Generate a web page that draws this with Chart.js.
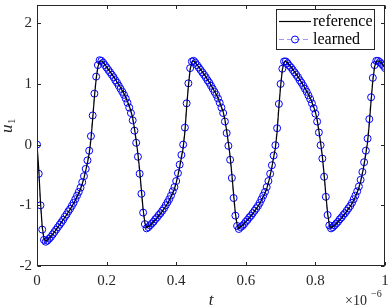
<!DOCTYPE html>
<html>
<head>
<meta charset="utf-8">
<script src="https://cdn.jsdelivr.net/npm/chart.js@4.4.1/dist/chart.umd.min.js"></script>
<style>
  html, body { margin: 0; padding: 0; background: #fff; }
  canvas { display: block; }
</style>
</head>
<body>
<canvas id="c" width="390" height="308"></canvas>
<script>
// time axis in units of 1e-6 s, sampled every 0.005
const tStep = 0.005

// reference trajectory u1(t)
const reference = [
  0, -0.40, -0.95, -1.35, -1.55, -1.59, -1.57, -1.54, -1.51, -1.48, -1.44, -1.40, -1.36,
  -1.32, -1.28, -1.24, -1.20, -1.16, -1.11, -1.07, -1.02, -0.97, -0.92, -0.86, -0.80,
  -0.73, -0.65, -0.55, -0.43, -0.30, -0.15, 0.08, 0.42, 0.78, 1.08, 1.28, 1.37,
  1.38, 1.36, 1.32, 1.28, 1.24, 1.20, 1.16, 1.12, 1.08, 1.03, 0.99, 0.94, 0.89, 0.84,
  0.78, 0.71, 0.64, 0.55, 0.44, 0.27, 0.07, -0.15, -0.42, -0.75, -1.07, -1.29, -1.37,
  -1.35, -1.33, -1.30, -1.27, -1.24, -1.21, -1.17, -1.14, -1.10, -1.06, -1.02, -0.97,
  -0.92, -0.86, -0.80, -0.73, -0.63, -0.51, -0.37, -0.21, -0.06, 0.21, 0.61, 0.96, 1.23, 1.36,
  1.38, 1.35, 1.31, 1.28, 1.24, 1.20, 1.16, 1.12, 1.07, 1.03, 0.98, 0.93, 0.88, 0.83,
  0.77, 0.70, 0.62, 0.54, 0.41, 0.23, 0.03, -0.19, -0.49, -0.82, -1.13, -1.32, -1.38,
  -1.35, -1.33, -1.30, -1.27, -1.24, -1.21, -1.17, -1.14, -1.10, -1.06, -1.02, -0.97,
  -0.92, -0.86, -0.80, -0.73, -0.63, -0.51, -0.37, -0.21, -0.06, 0.21, 0.61, 0.96, 1.23, 1.36,
  1.37, 1.35, 1.31, 1.28, 1.24, 1.20, 1.16, 1.12, 1.07, 1.03, 0.98, 0.93, 0.88, 0.83,
  0.77, 0.70, 0.62, 0.54, 0.41, 0.23, 0.03, -0.19, -0.49, -0.82, -1.13, -1.32, -1.37,
  -1.35, -1.33, -1.30, -1.27, -1.24, -1.21, -1.17, -1.14, -1.10, -1.06, -1.02, -0.97,
  -0.92, -0.86, -0.79, -0.71, -0.61, -0.48, -0.33, -0.15, 0.04, 0.35, 0.72, 1.05, 1.28, 1.37,
  1.38, 1.37, 1.34, 1.31, 1.27
]

// learned model output (circles)
const learned = [
  0, -0.48, -1.00, -1.40, -1.57, -1.60, -1.58, -1.55, -1.52, -1.48, -1.44, -1.40, -1.36,
  -1.32, -1.28, -1.24, -1.19, -1.15, -1.10, -1.06, -1.01, -0.96, -0.90, -0.84, -0.78,
  -0.71, -0.62, -0.52, -0.40, -0.26, -0.10, 0.14, 0.48, 0.84, 1.12, 1.31, 1.39,
  1.38, 1.35, 1.31, 1.27, 1.23, 1.19, 1.15, 1.11, 1.06, 1.02, 0.97, 0.92, 0.87, 0.82,
  0.76, 0.69, 0.61, 0.52, 0.40, 0.23, 0.03, -0.20, -0.48, -0.81, -1.12, -1.31, -1.38,
  -1.36, -1.33, -1.30, -1.27, -1.23, -1.20, -1.16, -1.13, -1.09, -1.05, -1.00, -0.95,
  -0.90, -0.84, -0.77, -0.70, -0.60, -0.47, -0.33, -0.17, 0.00, 0.28, 0.68, 1.01, 1.26, 1.37,
  1.38, 1.35, 1.31, 1.27, 1.23, 1.19, 1.15, 1.11, 1.06, 1.02, 0.97, 0.92, 0.87, 0.82,
  0.76, 0.69, 0.61, 0.52, 0.38, 0.19, -0.02, -0.25, -0.55, -0.88, -1.17, -1.34, -1.39,
  -1.36, -1.34, -1.31, -1.27, -1.24, -1.20, -1.17, -1.13, -1.09, -1.05, -1.01, -0.96,
  -0.90, -0.84, -0.78, -0.70, -0.60, -0.48, -0.34, -0.18, -0.01, 0.27, 0.67, 1.00, 1.25, 1.37,
  1.37, 1.34, 1.30, 1.27, 1.23, 1.19, 1.15, 1.11, 1.06, 1.02, 0.97, 0.92, 0.87, 0.81,
  0.75, 0.68, 0.60, 0.51, 0.38, 0.20, -0.01, -0.23, -0.53, -0.86, -1.16, -1.33, -1.38,
  -1.36, -1.33, -1.30, -1.27, -1.23, -1.20, -1.16, -1.13, -1.09, -1.05, -1.01, -0.96,
  -0.90, -0.84, -0.77, -0.69, -0.58, -0.45, -0.29, -0.10, 0.10, 0.42, 0.78, 1.10, 1.31, 1.38,
  1.38, 1.36, 1.33, 1.30, 1.26
]

const xTicks = [0, 0.2, 0.4, 0.6, 0.8, 1]
const xTickLabels = ['0', '0.2', '0.4', '0.6', '0.8', '1']
const yTicks = [-2, -1, 0, 1, 2]
const yTickLabels = ['-2', '-1', '0', '1', '2']

const axisColor = '#262626'
const serif = '"Liberation Serif", "DejaVu Serif", serif'

const toPoints = vals => vals.map((v, i) => ({ x: i * tStep, y: v }))

// MATLAB-like box with inward ticks, axis labels, exponent and legend
const matlabBox = {
  id: 'matlabBox',
  afterDraw(chart) {
    const { ctx, chartArea: a, scales } = chart
    const L = Math.round(a.left) + 0.5, R = Math.round(a.right) - 0.5
    const T = Math.round(a.top) + 0.5, B = Math.round(a.bottom) - 0.5
    ctx.save()
    ctx.strokeStyle = axisColor
    ctx.lineWidth = 1
    ctx.strokeRect(L, T, R - L, B - T)
    const tl = 3.5
    ctx.beginPath()
    xTicks.forEach(v => {
      const px = Math.round(scales.x.getPixelForValue(v)) + 0.5
      ctx.moveTo(px, B); ctx.lineTo(px, B - tl)
      ctx.moveTo(px, T); ctx.lineTo(px, T + tl)
    })
    yTicks.forEach(v => {
      const py = Math.round(scales.y.getPixelForValue(v)) + 0.5
      ctx.moveTo(L, py); ctx.lineTo(L + tl, py)
      ctx.moveTo(R, py); ctx.lineTo(R - tl, py)
    })
    ctx.stroke()

    // axis titles
    ctx.fillStyle = axisColor
    ctx.textAlign = 'center'
    ctx.textBaseline = 'alphabetic'
    ctx.font = 'italic 17px ' + serif
    ctx.fillText('t', (a.left + a.right) / 2, 305)

    ctx.save()
    ctx.translate(12, 127)
    ctx.rotate(-Math.PI / 2)
    ctx.font = 'italic 17px ' + serif
    ctx.textAlign = 'left'
    ctx.fillText('u', -6, 0)
    ctx.font = '11px ' + serif
    ctx.fillText('1', 3, 3)
    ctx.restore()

    // x exponent
    ctx.textAlign = 'left'
    ctx.font = '14px ' + serif
    ctx.fillText('\u00d710', 345, 305)
    ctx.font = '10px ' + serif
    ctx.fillText('\u22126', 371, 297)

    // legend
    const lx = 276.5, ly = 9.5, lw = 98, lh = 40
    ctx.fillStyle = '#fff'
    ctx.fillRect(lx, ly, lw, lh)
    ctx.strokeStyle = axisColor
    ctx.strokeRect(lx, ly, lw, lh)
    const ds = chart.data.datasets
    const rows = [21, 39]
    ds.forEach((d, i) => {
      const y = rows[i] + 0.5
      ctx.save()
      ctx.strokeStyle = d.borderColor
      ctx.lineWidth = d.borderWidth
      ctx.setLineDash(d.borderDash || [])
      ctx.beginPath(); ctx.moveTo(279, y); ctx.lineTo(311, y); ctx.stroke()
      ctx.restore()
      if (d.pointRadius > 0) {
        ctx.save()
        ctx.strokeStyle = d.pointBorderColor
        ctx.lineWidth = d.pointBorderWidth
        ctx.beginPath(); ctx.arc(295, y, d.pointRadius, 0, Math.PI * 2); ctx.stroke()
        ctx.restore()
      }
      ctx.fillStyle = '#000'
      ctx.font = '16px ' + serif
      ctx.textAlign = 'left'
      ctx.textBaseline = 'middle'
      ctx.fillText(d.label, 313, y)
    })
    ctx.restore()
  }
}

const canvas = document.getElementById('c')
const ctx = canvas.getContext('2d')

const chart = new Chart(ctx, {
  type: 'line',
  data: {
    datasets: [
      {
        label: 'reference',
        data: toPoints(reference),
        borderColor: '#000000',
        borderWidth: 1.2,
        pointRadius: 0,
        tension: 0
      },
      {
        label: 'learned',
        data: toPoints(learned),
        borderColor: 'rgba(120,120,255,0.75)',
        borderWidth: 1,
        borderDash: [5, 3],
        pointRadius: 3.5,
        pointBorderColor: '#0000ff',
        pointBackgroundColor: 'rgba(0,0,0,0)',
        pointBorderWidth: 1,
        tension: 0
      }
    ]
  },
  options: {
    responsive: false,
    animation: false,
    devicePixelRatio: 1,
    layout: { padding: { top: -4, right: 3, left: 0, bottom: 0 } },
    plugins: { legend: { display: false }, tooltip: { enabled: false } },
    scales: {
      x: {
        type: 'linear',
        min: 0,
        max: 1,
        afterBuildTicks: s => { s.ticks = xTicks.map(v => ({ value: v })) },
        afterFit: s => { s.height = 42; s.paddingLeft = 0; s.paddingRight = 0 },
        grid: { display: false, drawTicks: false },
        border: { display: false },
        ticks: {
          padding: 6,
          color: axisColor,
          font: { family: serif, size: 15 },
          maxRotation: 0,
          autoSkip: false,
          callback: (v) => xTickLabels[xTicks.indexOf(v)] ?? ''
        }
      },
      y: {
        type: 'linear',
        min: -2,
        max: 2.3,
        afterBuildTicks: s => { s.ticks = yTicks.map(v => ({ value: v })) },
        afterFit: s => { s.width = 37; s.paddingTop = 0; s.paddingBottom = 0 },
        grid: { display: false, drawTicks: false },
        border: { display: false },
        ticks: {
          padding: 5,
          color: axisColor,
          font: { family: serif, size: 15 },
          callback: (v) => yTickLabels[yTicks.indexOf(v)] ?? ''
        }
      }
    }
  },
  plugins: [matlabBox]
})
</script>
</body>
</html>
